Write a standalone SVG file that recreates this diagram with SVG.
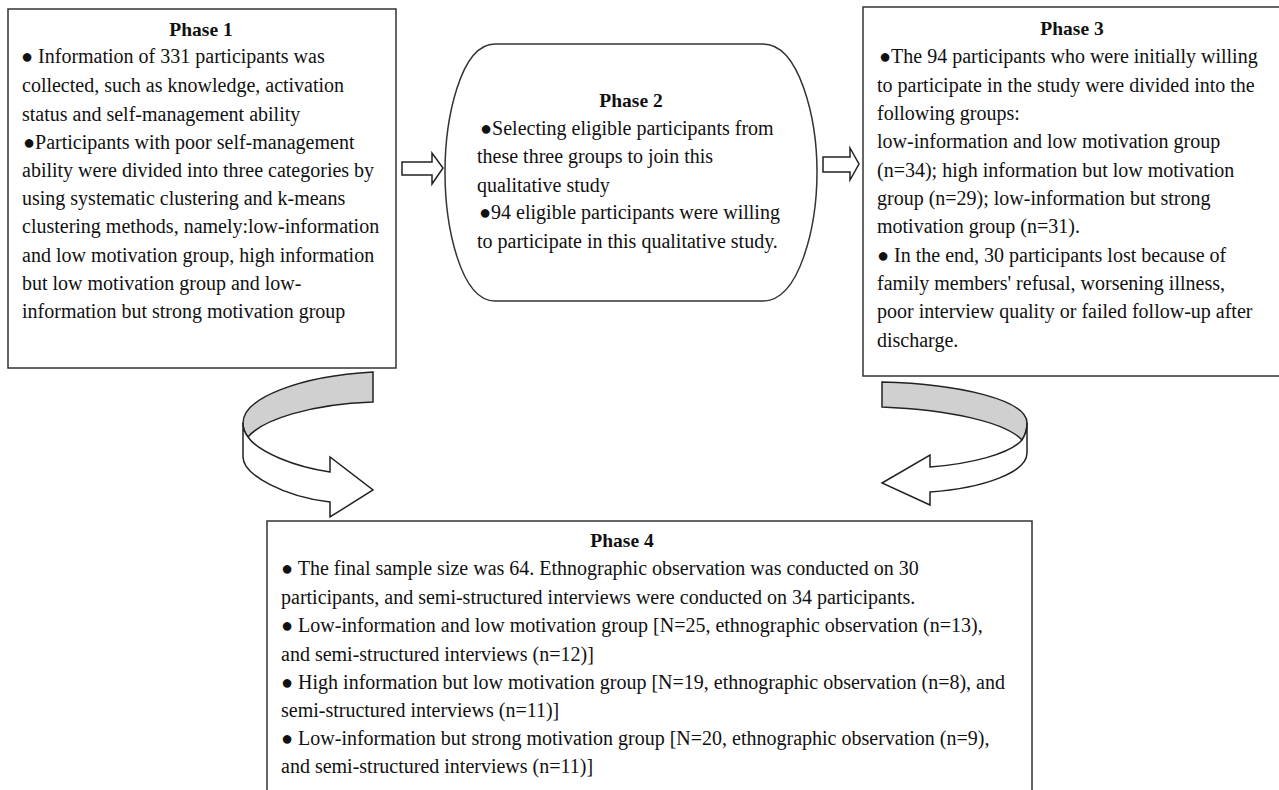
<svg xmlns="http://www.w3.org/2000/svg" width="1279" height="790" viewBox="0 0 1279 790">
<style>
.box{fill:#fff;stroke:#333;stroke-width:1.5}
.t{font-family:"Liberation Serif","Times New Roman",serif;font-size:20px;fill:#111}
.h{font-family:"Liberation Serif","Times New Roman",serif;font-size:19.5px;font-weight:bold;fill:#111;text-anchor:middle}
.arr{fill:#fff;stroke:#222;stroke-width:1.5;stroke-linejoin:miter}
.band{fill:#d0d0d0;stroke:#222;stroke-width:1.5}
</style>
<rect width="1279" height="790" fill="#fff"/>
<g id="phase1">
<rect class="box" x="8" y="9" width="388" height="359"/>
<text class="h" x="201" y="36">Phase 1</text>
<text class="t" x="21" y="63">● Information of 331 participants was</text>
<text class="t" x="22" y="92">collected, such as knowledge, activation</text>
<text class="t" x="22" y="121">status and self-management ability</text>
<text class="t" x="23" y="149">●Participants with poor self-management</text>
<text class="t" x="22" y="177">ability were divided into three categories by</text>
<text class="t" x="22" y="205">using systematic clustering and k-means</text>
<text class="t" x="22" y="233">clustering methods, namely:low-information</text>
<text class="t" x="22" y="262">and low motivation group, high information</text>
<text class="t" x="22" y="290">but low motivation group and low-</text>
<text class="t" x="22" y="318">information but strong motivation group</text>
</g>
<g id="phase2">
<path class="box" d="M495,44 L763,44 C800,44 817,120 817,172 C817,225 800,301 763,301 L495,301 C460,301 445,225 445,172 C445,120 460,44 495,44 Z"/>
<text class="h" x="631" y="107">Phase 2</text>
<text class="t" x="480" y="135">●Selecting eligible participants from</text>
<text class="t" x="477" y="163">these three groups to join this</text>
<text class="t" x="477" y="192">qualitative study</text>
<text class="t" x="479" y="219">●94 eligible participants were willing</text>
<text class="t" x="477" y="248">to participate in this qualitative study.</text>
</g>
<g id="phase3">
<rect class="box" x="863" y="7" width="420" height="369"/>
<text class="h" x="1072" y="35">Phase 3</text>
<text class="t" x="879" y="63">●The 94 participants who were initially willing</text>
<text class="t" x="877" y="92">to participate in the study were divided into the</text>
<text class="t" x="877" y="120">following groups:</text>
<text class="t" x="877" y="148">low-information and low motivation group</text>
<text class="t" x="877" y="177">(n=34); high information but low motivation</text>
<text class="t" x="877" y="205">group (n=29); low-information but strong</text>
<text class="t" x="877" y="233">motivation group (n=31).</text>
<text class="t" x="877" y="262">● In the end, 30 participants lost because of</text>
<text class="t" x="877" y="290">family members' refusal, worsening illness,</text>
<text class="t" x="877" y="318">poor interview quality or failed follow-up after</text>
<text class="t" x="877" y="347">discharge.</text>
</g>
<g id="phase4">
<rect class="box" x="267" y="521" width="765" height="280"/>
<text class="h" x="622" y="547">Phase 4</text>
<text class="t" x="281" y="575">● The final sample size was 64. Ethnographic observation was conducted on 30</text>
<text class="t" x="281" y="604">participants, and semi-structured interviews were conducted on 34 participants.</text>
<text class="t" x="281" y="632">● Low-information and low motivation group [N=25, ethnographic observation (n=13),</text>
<text class="t" x="281" y="661">and semi-structured interviews (n=12)]</text>
<text class="t" x="281" y="689">● High information but low motivation group [N=19, ethnographic observation (n=8), and</text>
<text class="t" x="281" y="717">semi-structured interviews (n=11)]</text>
<text class="t" x="281" y="745">● Low-information but strong motivation group [N=20, ethnographic observation (n=9),</text>
<text class="t" x="281" y="773">and semi-structured interviews (n=11)]</text>
</g>
<g id="connectors">
<path class="arr" d="M402,162 L432,162 L432,153 L443,168 L432,184 L432,175 L402,175 Z"/>
<path class="arr" d="M823,157 L850,157 L850,148 L859,164 L850,180 L850,172 L823,172 Z"/>
<path class="band" d="M373,372 L373,402 C310,404 262,420 248,437 C244,432 243,428 243,423 C243,398 300,376 373,372 Z"/>
<path class="arr" d="M243,423 L243,457 C243,475 285,497 330,502 L330,517 L373,490 L330,457 L330,472 C295,467 258,452 248,437 C244,432 243,428 243,423 Z"/>
<path class="band" d="M882,382 L882,407 C950,410 1005,422 1022,440 C1026,434 1027,429 1027,423 C1027,400 960,384 882,382 Z"/>
<path class="arr" d="M1027,423 L1027,453 C1027,472 985,488 930,492 L930,505 L882,483 L930,455 L930,467 C970,464 1010,454 1022,440 C1026,434 1027,429 1027,423 Z"/>
</g>
</svg>
